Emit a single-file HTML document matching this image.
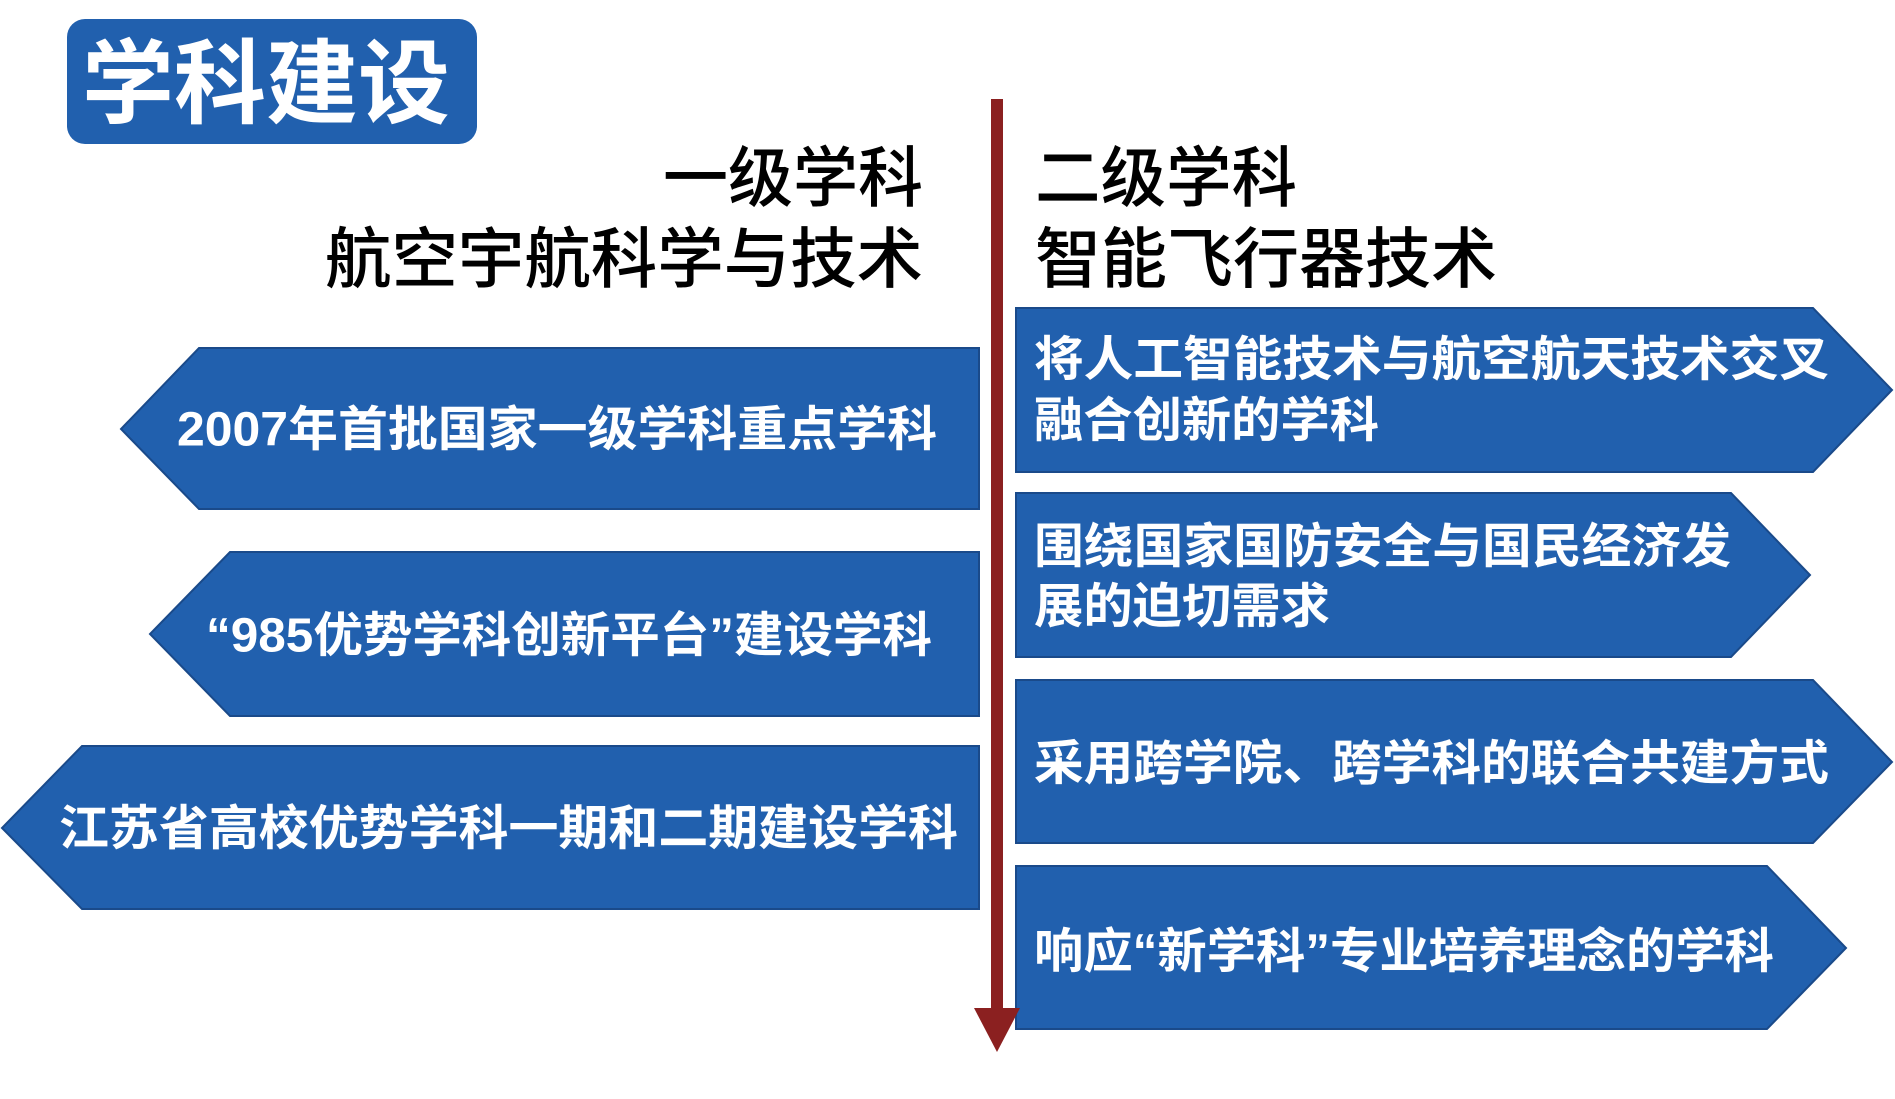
<!DOCTYPE html>
<html><head><meta charset="utf-8"><style>
html,body{margin:0;padding:0;background:#fff;}
svg{display:block;}
text{font-family:"Liberation Sans","Noto Sans CJK SC",sans-serif;}
</style></head><body>
<svg width="1895" height="1099" viewBox="0 0 1895 1099">
<rect x="67" y="19" width="410" height="125" rx="18" fill="#2160ae"/>
<text x="82" y="116" font-size="92" font-weight="bold" fill="#fff" textLength="368" lengthAdjust="spacingAndGlyphs">学科建设</text>

<g fill="#000" font-size="66" font-weight="500" dominant-baseline="central">
<text x="923" y="178" text-anchor="end" textLength="260" lengthAdjust="spacingAndGlyphs">一级学科</text>
<text x="923" y="259" text-anchor="end" textLength="598" lengthAdjust="spacingAndGlyphs">航空宇航科学与技术</text>
<text x="1035" y="178" textLength="262" lengthAdjust="spacingAndGlyphs">二级学科</text>
<text x="1035" y="259" textLength="462" lengthAdjust="spacingAndGlyphs">智能飞行器技术</text>
</g>

<g fill="#2160ae" stroke="#1a4a8a" stroke-width="2">
<polygon points="979,348 199,348 121,429 199,509 979,509"/>
<polygon points="979,552 230,552 150,634 230,716 979,716"/>
<polygon points="979,746 82,746 2,828 82,909 979,909"/>
<polygon points="1016,308 1813,308 1892,390 1813,472 1016,472"/>
<polygon points="1016,493 1731,493 1810,575 1731,657 1016,657"/>
<polygon points="1016,680 1813,680 1892,762 1813,843 1016,843"/>
<polygon points="1016,866 1767,866 1846,948 1767,1029 1016,1029"/>
</g>

<rect x="991" y="99" width="12" height="920" fill="#8b2020"/>
<polygon points="974,1008 1020,1008 997,1052" fill="#8b2020"/>

<g fill="#fff" font-size="48" font-weight="bold" dominant-baseline="central">
<text x="177" y="430" textLength="760" lengthAdjust="spacingAndGlyphs">2007年首批国家一级学科重点学科</text>
<text x="206" y="636" textLength="726" lengthAdjust="spacingAndGlyphs">“985优势学科创新平台”建设学科</text>
<text x="59" y="829" textLength="899" lengthAdjust="spacingAndGlyphs">江苏省高校优势学科一期和二期建设学科</text>
<text x="1034" y="360" textLength="795" lengthAdjust="spacingAndGlyphs">将人工智能技术与航空航天技术交叉</text>
<text x="1034" y="421" textLength="345" lengthAdjust="spacingAndGlyphs">融合创新的学科</text>
<text x="1034" y="547" textLength="697" lengthAdjust="spacingAndGlyphs">围绕国家国防安全与国民经济发</text>
<text x="1034" y="607" textLength="296" lengthAdjust="spacingAndGlyphs">展的迫切需求</text>
<text x="1034" y="764" textLength="795" lengthAdjust="spacingAndGlyphs">采用跨学院、跨学科的联合共建方式</text>
<text x="1034" y="952" textLength="740" lengthAdjust="spacingAndGlyphs">响应“新学科”专业培养理念的学科</text>
</g>
</svg>
</body></html>
